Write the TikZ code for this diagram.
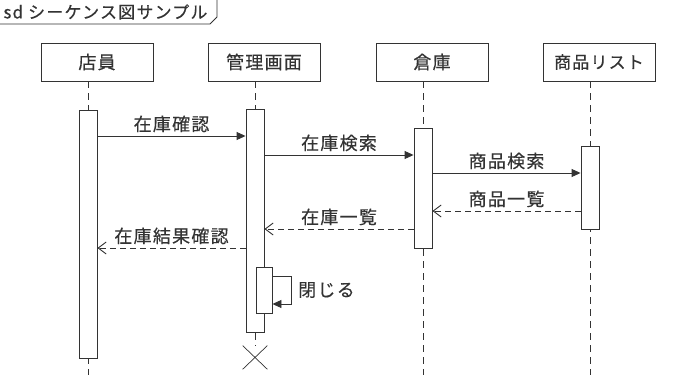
\documentclass[tikz,border=0pt]{standalone}
\usepackage{fontspec}
\setmainfont{Noto Sans CJK JP}[LetterSpace=7, FakeBold=0.3]
\usetikzlibrary{arrows.meta, positioning, calc, shapes.misc}

\begin{document}
\begin{tikzpicture}[x=1pt, y=-1pt, line width=0.9pt, color=black!80,
  every node/.style={font=\fontsize{18}{20}\selectfont},
  head/.style={draw, minimum width=112pt, minimum height=38pt, inner sep=0pt},
  act/.style={draw, fill=white, minimum width=18pt, inner sep=0pt, anchor=north},
  life/.style={dash pattern=on 7pt off 5pt},
  call/.style={-{Triangle[length=9pt,width=8pt]}},
  reply/.style={dash pattern=on 6pt off 4pt, -{Straight Barb[length=8pt,width=12pt]}}]
  \useasboundingbox (0,0) rectangle (680,375);

  % frame tab
  \node[anchor=west, inner sep=0pt, font=\fontsize{17}{19}\selectfont] (title) at (3,12) {sd シーケンス図サンプル};
  \draw (0,24) -- (210,24) -- (217,17) -- (217,0);

  % lifeline heads
  \node[head] (clerk) at (97,62)  {店員};
  \node[head] (admin) at (264,62) {管理画面};
  \node[head] (stock) at (432,62) {倉庫};
  \node[head, font=\fontsize{17}{19}\selectfont] (items) at (599,62) {商品リスト};

  % lifelines
  \coordinate (clerk top) at ($(clerk.south)+(-9,0)$);
  \coordinate (admin top) at ($(admin.south)+(-9,0)$);
  \coordinate (stock top) at ($(stock.south)+(-9,0)$);
  \coordinate (items top) at ($(items.south)+(-9,0)$);
  \node[cross out, draw, minimum width=24pt, minimum height=23pt, inner sep=0pt,
    line width=0.7pt] (admin end) at ($(admin top)+(0,276)$) {};
  \draw[life] (clerk top) -- ++(0,294);
  \draw[life] (admin top) -- (admin end.north);
  \draw[life] (stock top) -- ++(0,294);
  \draw[life] (items top) -- ++(0,294);

  % activations
  \node[act, minimum height=248pt] (clerk act) at ($(clerk top)+(0,29)$) {};
  \node[act, minimum height=223pt] (admin act) at ($(admin top)+(0,28)$) {};
  \node[act, minimum height=120pt] (stock act) at ($(stock top)+(0,47)$) {};
  \node[act, minimum height=83pt]  (items act) at ($(items top)+(0,65)$) {};
  \node[act, minimum width=16pt, minimum height=46pt] (admin sub) at ($(admin act.north)+(9,158)$) {};

  % messages
  \draw[call] (clerk act.east |- 0,136) -- node[above=0pt] {在庫確認} (admin act.west |- 0,136);
  \draw[call] (admin act.east |- 0,155) -- node[above=0pt] {在庫検索} (stock act.west |- 0,155);
  \draw[call] (stock act.east |- 0,173) -- node[above=0pt] {商品検索} (items act.west |- 0,173);
  \draw[reply] (items act.west |- 0,211) -- node[above=0pt] {商品一覧} (stock act.east |- 0,211);
  \draw[reply] (stock act.west |- 0,229) -- node[above=0pt] {在庫一覧} (admin act.east |- 0,229);
  \draw[reply] (admin act.west |- 0,248) -- node[above=0pt] {在庫結果確認} (clerk act.east |- 0,248);
  \draw[call] (admin sub.east |- 0,276) -- ++(19,0)
    |- node[pos=0.25, right=3pt] {閉じる} (admin sub.east |- 0,304);
\end{tikzpicture}
\end{document}
